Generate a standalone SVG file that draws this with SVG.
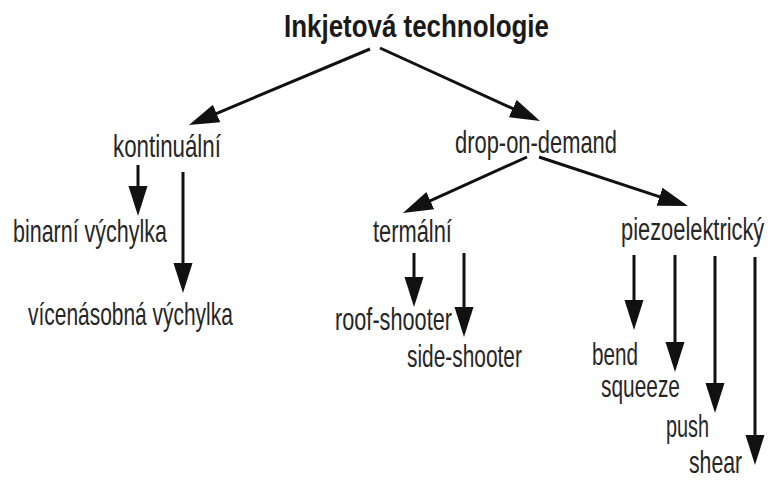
<svg xmlns="http://www.w3.org/2000/svg" width="771" height="481" viewBox="0 0 771 481">
<style>
.t{font-family:"Liberation Sans",Arial,sans-serif;font-size:31px;fill:#262626;}
.h{font-family:"Liberation Sans",Arial,sans-serif;font-size:32px;font-weight:bold;fill:#1a1a1a;}
.c line{stroke:#111;stroke-width:3;marker-end:url(#ah);}
</style>
<defs>
<marker id="ah" markerUnits="userSpaceOnUse" markerWidth="31" markerHeight="20" refX="10" refY="9.5" orient="auto" viewBox="0 0 31 19">
<path d="M0,0 L30,9.5 L0,19 z" fill="#111"/>
</marker>
</defs>
<rect width="771" height="481" fill="#fff"/>
<g id="connectors" class="c">
<line x1="370" y1="49" x2="207.4" y2="117.3"/>
<line x1="380" y1="48" x2="521.8" y2="112.7"/>
<line x1="138" y1="165" x2="138" y2="196"/>
<line x1="183" y1="172" x2="183" y2="273"/>
<line x1="527" y1="157" x2="421.2" y2="204.8"/>
<line x1="539" y1="157" x2="669" y2="199.8"/>
<line x1="414" y1="253" x2="414" y2="287"/>
<line x1="464" y1="253" x2="464" y2="317"/>
<line x1="634" y1="255" x2="634" y2="310"/>
<line x1="675" y1="255" x2="675" y2="352"/>
<line x1="715" y1="256" x2="715" y2="393"/>
<line x1="755" y1="257" x2="755" y2="445"/>
</g>
<g id="n-root"><text class="h" transform="translate(284,37) scale(0.81,1)">Inkjetová technologie</text></g>
<g id="n-kontinualni"><text class="t" transform="translate(113,157) scale(0.72,1)">kontinuální</text></g>
<g id="n-dod"><text class="t" transform="translate(455,153) scale(0.707,1)">drop-on-demand</text></g>
<g id="n-binarni"><text class="t" transform="translate(13,242) scale(0.693,1)">binarní výchylka</text></g>
<g id="n-vicenasobna"><text class="t" transform="translate(28,325) scale(0.676,1)">vícenásobná výchylka</text></g>
<g id="n-termalni"><text class="t" transform="translate(373,242) scale(0.705,1)">termální</text></g>
<g id="n-piezo"><text class="t" transform="translate(621,240) scale(0.705,1)">piezoelektrický</text></g>
<g id="n-roof"><text class="t" transform="translate(335,330) scale(0.70,1)">roof-shooter</text></g>
<g id="n-side"><text class="t" transform="translate(407,367) scale(0.674,1)">side-shooter</text></g>
<g id="n-bend"><text class="t" transform="translate(592,365) scale(0.667,1)">bend</text></g>
<g id="n-squeeze"><text class="t" transform="translate(601,397) scale(0.674,1)">squeeze</text></g>
<g id="n-push"><text class="t" transform="translate(666,437) scale(0.64,1)">push</text></g>
<g id="n-shear"><text class="t" transform="translate(689,473) scale(0.684,1)">shear</text></g>
</svg>
